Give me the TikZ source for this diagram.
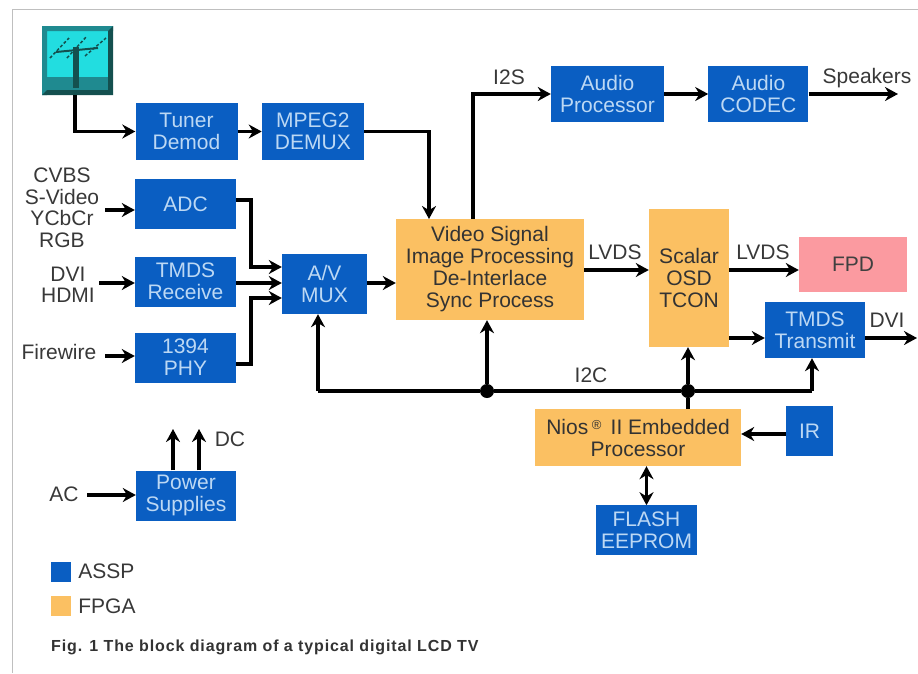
\documentclass[tikz,border=0pt]{standalone}
\usepackage{fontspec}
\setmainfont{Liberation Sans}
\usetikzlibrary{arrows.meta, positioning, calc}
\definecolor{asspblue}{HTML}{0A5EC2}
\definecolor{fpgaorange}{HTML}{FBC062}
\definecolor{fpdpink}{HTML}{FB9AA0}
\definecolor{asspfont}{HTML}{BCD8F4}
\definecolor{labelgray}{HTML}{383838}
\definecolor{antcyan}{HTML}{22DDE0}
\definecolor{antteal}{HTML}{1F8A90}
\definecolor{antdark}{HTML}{14504F}

\begin{document}
\begin{tikzpicture}[
        x=1pt, y=-1pt,
        node distance=25pt and 25pt,
        assp/.style={rectangle, fill=asspblue, inner sep=0pt, minimum width=101pt, minimum height=50pt, align=center, text=asspfont, font=\fontsize{21}{22}\selectfont},
        fpga/.style={rectangle, fill=fpgaorange, inner sep=0pt, align=center, text=black!80, font=\fontsize{21}{22}\selectfont},
        arrow/.style={-{Stealth[length=13pt, width=14pt]}, line width=3.6pt, black},
        dualarrow/.style={{Stealth[length=13pt, width=14pt]}-{Stealth[length=13pt, width=14pt]}, line width=3.6pt, black},
        bus/.style={line width=3.6pt, black},
        label/.style={inner sep=0pt, align=center, text=labelgray, font=\fontsize{21}{21.5}\selectfont},
        junction/.style={circle, fill=black, inner sep=0pt, minimum size=14pt}
    ]
        \useasboundingbox (0,0) rectangle (918,673);
        \draw[line width=1.5pt, black!25] (918,9.5) -- (12.5,9.5) -- (12.5,673);

        % antenna
        \node[rectangle, fill=antcyan, inner sep=0pt, minimum width=71pt, minimum height=69pt] (antenna) at (77.5,60.5) {};
        \fill[antteal] (42,26) rectangle (113,31) (42,26) rectangle (47,95);
        \fill[antdark] (42,95) -- (47,90) -- (108,90) -- (108,31) -- (113,26) -- (113,95) -- cycle;
        \fill[antteal] (47,77) rectangle (108,90);
        \draw[line width=1.5pt, antdark, densely dashed] (50,58) -- (69,38) (67,58) -- (87,36) (85,56) -- (106,38);
        \draw[line width=2pt, antdark] (56,52) -- (98,48);
        \draw[line width=6pt, antdark] (76,47) -- (76,88);

        % top row
        \node[assp, minimum width=102pt, minimum height=57pt] (tuner) at (186.5,131.5) {Tuner\\Demod};
        \node[assp, minimum width=102pt, minimum height=57pt, right=24pt of tuner] (demux) {MPEG2\\DEMUX};
        \node[assp, minimum width=113pt, minimum height=56pt] (audioproc) at (607.5,94) {Audio\\Processor};
        \node[assp, minimum width=100pt, minimum height=56pt, right=44pt of audioproc] (codec) {Audio\\CODEC};

        % inputs
        \node[assp] (adc) at (185.5,204) {ADC};
        \node[assp] (receive) at (185.5,281.5) {TMDS\\Receive};
        \node[assp] (phy) at (185.5,357.5) {1394\\PHY};
        \node[assp, minimum width=85pt, minimum height=60pt] (mux) at (324.5,284) {A/V\\MUX};

        % main chain
        \node[fpga, minimum width=188pt, minimum height=101pt] (video) at (490,269.5) {Video Signal\\Image Processing\\De-Interlace\\Sync Process};
        \node[fpga, minimum width=80pt, minimum height=138pt] (scalar) at (689,278) {Scalar\\OSD\\TCON};
        \node[rectangle, fill=fpdpink, inner sep=0pt, minimum width=108pt, minimum height=55pt, text=black!75, font=\fontsize{21}{22}\selectfont] (fpd) at (853,264.5) {FPD};
        \node[assp, minimum width=100pt, minimum height=56pt] (transmit) at (815,330) {TMDS\\Transmit};

        % processor
        \node[fpga, minimum width=206pt, minimum height=57pt] (nios) at (638,437.5) {Nios\,\raisebox{0.45ex}{\fontsize{13}{13}\selectfont\textregistered}\, II Embedded\\Processor};
        \node[assp, minimum width=47pt] (ir) at (809.5,431) {IR};
        \node[assp, below=39pt of nios.south, anchor=north, xshift=8.5pt] (flash) {FLASH\\EEPROM};
        \node[assp, minimum width=100pt, minimum height=50pt] (power) at (186,495.5) {Power\\Supplies};

        % free labels
        \node[label] (analog) at (62,208) {CVBS\\S-Video\\YCbCr\\RGB};
        \node[label] (digital) at (68,285) {DVI\\HDMI};
        \node[label] (firewire) at (59,352) {Firewire};
        \node[label] (ac) at (64,494) {AC};
        \node[label] (dc) at (230,439) {DC};
        \node[label] (i2s) at (509,77) {I2S};
        \node[label] (speakers) at (867,78) {Speakers};
        \node[label] (lvdsin) at (615,252) {LVDS};
        \node[label] (lvdsout) at (763,252) {LVDS};
        \node[label] (dvi) at (887,320) {DVI};
        \node[label] (i2c) at (591,375) {I2C};

        % free ends and bus points
        \coordinate (speakersend) at (898,94);
        \coordinate (dviend) at (917,338);
        \coordinate (dcleft) at (173,429);
        \coordinate (dcright) at (199,429);
        \coordinate (busleft) at (318,391);
        \coordinate (busright) at (812,391);
        \node[junction] (videojoin) at (487,391) {};
        \node[junction] (scalarjoin) at (688,391) {};

        % arrows on the top row
        \draw[arrow] (antenna.south -| 75,0) |- (tuner.west);
        \draw[arrow] (tuner) -- (demux);
        \draw[arrow] (demux.east) -| (429,219);
        \draw[arrow] (473,219) |- (audioproc.west);
        \draw[arrow] (audioproc) -- (codec);
        \draw[arrow] (codec.east) -- (speakersend);

        % arrows into the mux
        \draw[arrow] (105,210) -- (adc.west |- 0,210);
        \draw[arrow] (99,283) -- (receive.west |- 0,283);
        \draw[arrow] (105,356) -- (phy.west |- 0,356);
        \draw[arrow] (adc.east |- 0,200) -| (251,267) -- (mux.west |- 0,267);
        \draw[arrow] (receive.east |- 0,283) -- (mux.west |- 0,283);
        \draw[arrow] (phy.east |- 0,364) -| (251,298) -- (mux.west |- 0,298);
        \draw[arrow] (mux.east |- 0,283) -- (video.west |- 0,283);

        % arrows to the outputs
        \draw[arrow] (video.east |- 0,270) -- (scalar.west |- 0,270);
        \draw[arrow] (scalar.east |- 0,270) -- (fpd.west |- 0,270);
        \draw[arrow] (scalar.east |- 0,338) -- (transmit.west |- 0,338);
        \draw[arrow] (transmit.east |- 0,338) -- (dviend);

        % I2C bus
        \draw[bus] (busleft) -- (videojoin) -- (scalarjoin) -- (busright);
        \draw[arrow] (busleft) -- (busleft |- mux.south);
        \draw[arrow] (videojoin) -- (videojoin |- video.south);
        \draw[arrow] (scalarjoin) -- (scalarjoin |- scalar.south);
        \draw[arrow] (busright) -- (busright |- transmit.south);
        \draw[bus] (scalarjoin |- nios.north) -- (scalarjoin);
        \draw[arrow] (ir.west |- 0,434) -- (nios.east |- 0,434);
        \draw[dualarrow] (nios.south -| flash) -- (flash.north);

        % power
        \draw[arrow] (87,495) -- (power.west |- 0,495);
        \draw[arrow] (power.north -| dcleft) -- (dcleft);
        \draw[arrow] (power.north -| dcright) -- (dcright);

        % legend
        \node[rectangle, fill=asspblue, minimum size=20pt, inner sep=0pt] (asspkey) at (61,571.5) {};
        \node[rectangle, fill=fpgaorange, minimum size=20pt, inner sep=0pt, below=14pt of asspkey] (fpgakey) {};
        \node[label, right=7pt of asspkey] (assplabel) {ASSP};
        \node[label, right=7pt of fpgakey] (fpgalabel) {FPGA};
        \node[inner sep=0pt, anchor=west, text=black!80, font=\fontsize{16}{18}\selectfont\bfseries\addfontfeature{LetterSpace=5.5}] (caption) at (51,647) {Fig. 1 The block diagram of a typical digital LCD TV};
    \end{tikzpicture}
\end{document}
